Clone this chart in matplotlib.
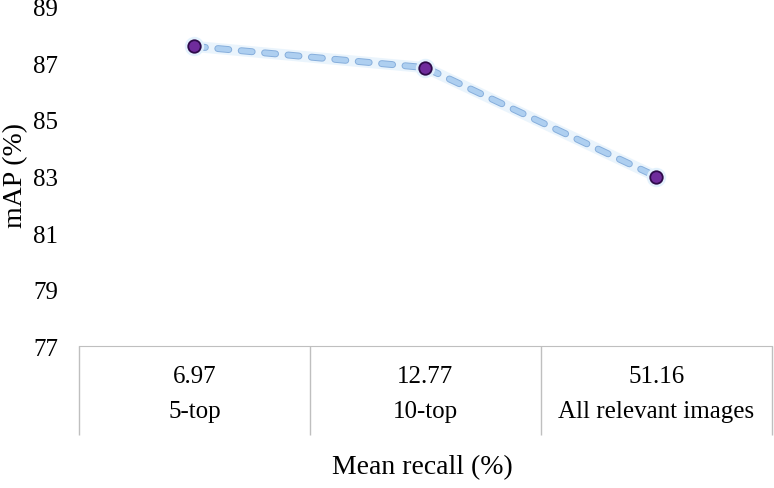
import numpy as np
import matplotlib.pyplot as plt
import matplotlib.patheffects as pe
from matplotlib.transforms import blended_transform_factory

plt.rcParams['font.family'] = ['Liberation Serif', 'DejaVu Serif']

# data
recall = ['6.97', '12.77', '51.16']
setting = ['5-top', '10-top', 'All relevant images']
mAP = [87.6, 86.85, 83.0]
yticks = [77, 79, 81, 83, 85, 87, 89]

fig = plt.figure(figsize=(7.74, 4.89), dpi=100)
ax = fig.add_axes([0.102, 0.290, 0.895, 0.694])

x = np.arange(len(mAP))

# soft glow under the line and markers
ax.plot(x, mAP, color='#DDEEFB', lw=8, alpha=0.6, solid_capstyle='round', zorder=1)
ln, = ax.plot(x, mAP, color='#AECFF0', lw=3.6, linestyle=(0, (2.2, 2.5)),
              dash_capstyle='round', zorder=2)
ln.set_path_effects([pe.Stroke(linewidth=5.0, foreground='#86AEDC'), pe.Normal()])
ax.plot(x, mAP, 'o', ms=13, color='#E3F2FD', alpha=0.9, zorder=3)
ax.plot(x, mAP, 'o', ms=9, color='#6F2C9C', mec='#2E0B4A', mew=1.3, zorder=4)

ax.set_xlim(-0.5, len(mAP) - 0.5)
ax.set_ylim(77, 89)
ax.set_yticks(yticks)
ax.tick_params(axis='y', length=0, pad=15, labelsize=18)

# table-like category axis
ax.set_xticks(np.arange(len(mAP) + 1) - 0.5)
ax.set_xticklabels([])
ax.tick_params(axis='x', which='major', length=64, width=1, color='#BFBFBF', direction='out')

tr = blended_transform_factory(ax.transData, fig.transFigure)
for i in range(len(mAP)):
    ax.text(x[i], 1 - 377 / 489, recall[i], transform=tr, ha='center', va='center', fontsize=18)
    ax.text(x[i], 1 - 412 / 489, setting[i], transform=tr, ha='center', va='center', fontsize=18)

for s in ['top', 'right', 'left']:
    ax.spines[s].set_visible(False)
ax.spines['bottom'].set_color('#BFBFBF')

fig.text(16 / 774, 1 - 175 / 489, 'mAP (%)', rotation=90, ha='center', va='center', fontsize=20)
fig.text(422 / 774, 1 - 468 / 489, 'Mean recall (%)', ha='center', va='center', fontsize=20)

fig.savefig('out.png', dpi=100)
